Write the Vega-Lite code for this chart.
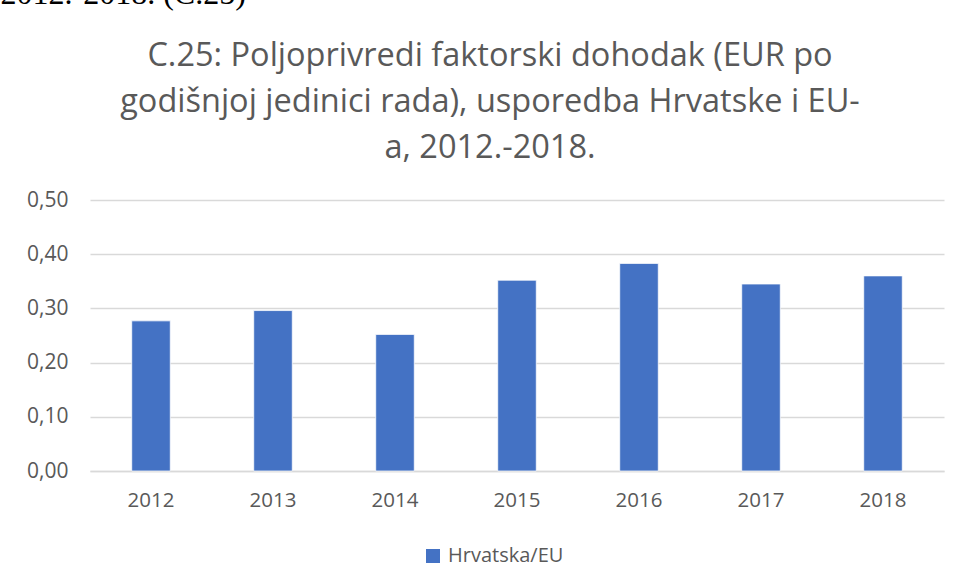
{
  "$schema": "https://vega.github.io/schema/vega-lite/v6.json",
  "width": 854,
  "height": 271,
  "autosize": {"type": "none"},
  "padding": {"left": 90, "top": 200, "right": 17, "bottom": 117},
  "background": "white",
  "title": {
    "text": ["C.25: Poljoprivredi faktorski dohodak (EUR po", "godišnjoj jedinici rada), usporedba Hrvatske i EU-", "a, 2012.-2018."],
    "font": "Open Sans",
    "fontSize": 32.5,
    "fontWeight": "normal",
    "color": "#595959",
    "lineHeight": 46,
    "anchor": "middle",
    "frame": "group",
    "dx": -27,
    "dy": 187,
    "offset": 0
  },
  "data": {
    "values": [
      {"godina": "2012", "serija": "Hrvatska/EU", "vrijednost": 0.277},
      {"godina": "2013", "serija": "Hrvatska/EU", "vrijednost": 0.296},
      {"godina": "2014", "serija": "Hrvatska/EU", "vrijednost": 0.252},
      {"godina": "2015", "serija": "Hrvatska/EU", "vrijednost": 0.352},
      {"godina": "2016", "serija": "Hrvatska/EU", "vrijednost": 0.383},
      {"godina": "2017", "serija": "Hrvatska/EU", "vrijednost": 0.345},
      {"godina": "2018", "serija": "Hrvatska/EU", "vrijednost": 0.360}
    ]
  },
  "mark": {"type": "bar", "stroke": "#FFFFFF", "strokeWidth": 0.75},
  "encoding": {
    "x": {
      "field": "godina",
      "type": "ordinal",
      "scale": {"paddingInner": 0.684, "paddingOuter": 0.342},
      "axis": {
        "title": null,
        "labelAngle": 0,
        "labelFont": "Open Sans",
        "labelFontSize": 20.5,
        "labelColor": "#595959",
        "labelPadding": 19,
        "ticks": false,
        "domain": true,
        "domainColor": "#D9D9D9",
        "domainWidth": 1.5,
        "grid": false
      }
    },
    "y": {
      "field": "vrijednost",
      "type": "quantitative",
      "scale": {"domain": [0, 0.5], "nice": false},
      "axis": {
        "title": "2012.-2018. (C.25)",
        "titleAngle": 0,
        "titleAlign": "left",
        "titleBaseline": "alphabetic",
        "titleX": -90,
        "titleY": -197,
        "titleFont": "Liberation Serif",
        "titleFontSize": 32,
        "titleFontWeight": "normal",
        "titleColor": "#000000",
        "values": [0, 0.1, 0.2, 0.3, 0.4, 0.5],
        "labelExpr": "replace(format(datum.value, '.2f'), '.', ',')",
        "labelFont": "Open Sans",
        "labelFontSize": 21,
        "labelColor": "#595959",
        "labelPadding": 22,
        "ticks": false,
        "domain": false,
        "grid": true,
        "gridColor": "#D9D9D9",
        "gridWidth": 1.5
      }
    },
    "color": {
      "field": "serija",
      "type": "nominal",
      "scale": {"range": ["#4472C4"]},
      "legend": {
        "title": null,
        "orient": "none",
        "legendX": 333,
        "legendY": 346,
        "symbolType": "square",
        "symbolSize": 196,
        "symbolStrokeWidth": 0,
        "labelFont": "Open Sans",
        "labelFontSize": 20,
        "labelColor": "#595959",
        "labelOffset": 5
      }
    }
  },
  "config": {"view": {"stroke": null}}
}
